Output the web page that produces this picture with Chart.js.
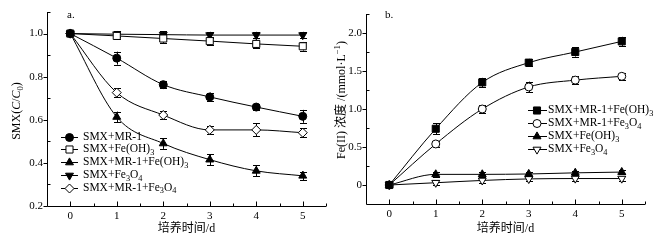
<!DOCTYPE html>
<html>
<head>
<meta charset="utf-8">
<script src="https://cdn.jsdelivr.net/npm/chart.js@4.4.0/dist/chart.umd.min.js"></script>
<style>
	html, body { margin: 0; padding: 0; background: #fff; }
	#wrap { position: relative; width: 667px; height: 244px; }
	canvas { position: absolute; top: 0; }
	#canvasA { left: 0; }
	#canvasB { left: 333px; }
</style>
</head>
<body>
<div id="wrap">
	<canvas id="canvasA" width="333" height="244"></canvas>
	<canvas id="canvasB" width="334" height="244"></canvas>
</div>
<script>
var days = [0, 1, 2, 3, 4, 5];

// panel a: SMX (C/C0)
var aLabels = ["SMX+MR-1", "SMX+Fe(OH)3", "SMX+MR-1+Fe(OH)3", "SMX+Fe3O4", "SMX+MR-1+Fe3O4"];
var aMR1       = [1.0, 0.886, 0.763, 0.706, 0.659, 0.616];
var aFeOH      = [1.0, 0.989, 0.977, 0.965, 0.952, 0.941];
var aMR1FeOH   = [1.0, 0.613, 0.490, 0.415, 0.363, 0.340];
var aFe3O4     = [1.0, 0.997, 0.995, 0.993, 0.993, 0.993];
var aMR1Fe3O4  = [1.0, 0.726, 0.622, 0.553, 0.553, 0.540];
var aErrMR1      = [0, 0.030, 0.015, 0.020, 0.015, 0.030];
var aErrFeOH     = [0, 0.015, 0.020, 0.020, 0.020, 0.020];
var aErrMR1FeOH  = [0, 0.025, 0.025, 0.025, 0.025, 0.020];
var aErrFe3O4    = [0, 0.015, 0.015, 0.015, 0.015, 0.015];
var aErrMR1Fe3O4 = [0, 0.020, 0.020, 0.020, 0.030, 0.020];
var aTicks = [0.2, 0.4, 0.6, 0.8, 1.0];
var aMinor = [0.3, 0.5, 0.7, 0.9, 1.1];

// panel b: Fe(II)
var bLabels = ["SMX+MR-1+Fe(OH)3", "SMX+MR-1+Fe3O4", "SMX+Fe(OH)3", "SMX+Fe3O4"];
var bMR1FeOH   = [0, 0.74, 1.35, 1.61, 1.75, 1.89];
var bMR1Fe3O4  = [0, 0.54, 1.00, 1.29, 1.38, 1.43];
var bFeOH      = [0, 0.14, 0.14, 0.145, 0.16, 0.17];
var bFe3O4     = [0, 0.03, 0.06, 0.08, 0.085, 0.085];
var bErrMR1FeOH  = [0, 0.07, 0.06, 0.05, 0.06, 0.06];
var bErrMR1Fe3O4 = [0, 0.04, 0.05, 0.07, 0.05, 0.05];
var bErrFeOH     = [0, 0.03, 0.03, 0.03, 0.03, 0.03];
var bErrFe3O4    = [0, 0.03, 0.03, 0.03, 0.03, 0.03];
var bTicks = [0, 0.5, 1.0, 1.5, 2.0];
var bMinor = [0.25, 0.75, 1.25, 1.75, 2.25];

var xMinor = [0.5, 1.5, 2.5, 3.5, 4.5, 5.5];

var FAMILY = "'Liberation Serif', 'Noto Sans CJK SC', serif";
Chart.defaults.font.family = FAMILY;
Chart.defaults.font.size = 11;
Chart.defaults.color = "#000";

function pts(vals){
	return days.map(function(d, i){ return { x: d, y: vals[i] }; });
}

// digits after a letter or ')' become subscripts
function chem(str){
	var bits = str.split(/(?<=[A-Za-z)])(\d+)/);
	return bits.map(function(t, i){ return { t: t, sub: i % 2 === 1 }; });
}

function drawRich(ctx, segs, x, y, size, align){
	function fnt(s){ return (s.it ? "italic " : "") + ((s.sub || s.sup) ? size * 0.72 : size) + "px " + FAMILY; }
	var total = 0;
	segs.forEach(function(s){ ctx.font = fnt(s); s.w = ctx.measureText(s.t).width; total += s.w; });
	var cx = align === "center" ? x - total / 2 : x;
	ctx.textBaseline = "middle";
	ctx.textAlign = "left";
	segs.forEach(function(s){
		ctx.font = fnt(s);
		var dy = s.sub ? size * 0.3 : (s.sup ? -size * 0.35 : 0);
		ctx.fillText(s.t, cx, y + dy);
		cx += s.w;
	});
}

function series(label, vals, errs, style, filled, radius, rotation){
	return {
		label: label,
		data: pts(vals),
		errors: errs,
		borderColor: "#000",
		borderWidth: 1,
		backgroundColor: filled ? "#000" : "#fff",
		pointBackgroundColor: filled ? "#000" : "#fff",
		pointBorderColor: "#000",
		pointBorderWidth: 1,
		pointStyle: style,
		pointRadius: radius,
		pointRotation: rotation || 0,
		cubicInterpolationMode: "monotone",
		fill: false
	};
}

function panelPlugin(spec){
	return {
		id: "panel" + spec.tag,
		beforeDatasetsDraw: function(chart){
			var ctx = chart.ctx, ys = chart.scales.y;
			ctx.save();
			ctx.strokeStyle = "#000";
			ctx.lineWidth = 1;
			chart.data.datasets.forEach(function(ds, di){
				var meta = chart.getDatasetMeta(di);
				ds.data.forEach(function(p, i){
					var e = ds.errors[i];
					if (!e) { return; }
					var px = Math.round(meta.data[i].x) + 0.5;
					var t = ys.getPixelForValue(p.y + e), b = ys.getPixelForValue(p.y - e);
					ctx.beginPath();
					ctx.moveTo(px, t); ctx.lineTo(px, b);
					ctx.moveTo(px - 3.5, Math.round(t) + 0.5); ctx.lineTo(px + 3.5, Math.round(t) + 0.5);
					ctx.moveTo(px - 3.5, Math.round(b) + 0.5); ctx.lineTo(px + 3.5, Math.round(b) + 0.5);
					ctx.stroke();
				});
			});
			ctx.restore();
		},
		afterDraw: function(chart){
			var ctx = chart.ctx, ca = chart.chartArea, xs = chart.scales.x, ys = chart.scales.y;
			var L = Math.round(ca.left) + 0.5, B = Math.round(ca.bottom) + 0.5;
			ctx.save();
			ctx.strokeStyle = "#000";
			ctx.fillStyle = "#000";
			ctx.lineWidth = 1;
			ctx.beginPath();
			ctx.moveTo(L, ca.top); ctx.lineTo(L, B); ctx.lineTo(ca.right, B);
			spec.yTicks.forEach(function(v){
				var p = Math.round(ys.getPixelForValue(v)) + 0.5;
				ctx.moveTo(L - 4, p); ctx.lineTo(L, p);
			});
			spec.yMinor.forEach(function(v){
				var p = Math.round(ys.getPixelForValue(v)) + 0.5;
				ctx.moveTo(L, p); ctx.lineTo(L + 3, p);
			});
			days.forEach(function(v){
				var p = Math.round(xs.getPixelForValue(v)) + 0.5;
				ctx.moveTo(p, B); ctx.lineTo(p, B - 5);
			});
			xMinor.forEach(function(v){
				var p = Math.round(xs.getPixelForValue(v)) + 0.5;
				ctx.moveTo(p, B); ctx.lineTo(p, B - 3);
			});
			ctx.stroke();

			// panel letter, axis titles
			drawRich(ctx, [{ t: spec.tag }], spec.tagX, spec.tagY, 11, "left");
			drawRich(ctx, [{ t: "培养时间/d" }], (ca.left + ca.right) / 2, 229, 12, "center");
			ctx.save();
			ctx.translate(spec.yTitleX, spec.yTitleY);
			ctx.rotate(-Math.PI / 2);
			drawRich(ctx, spec.yTitle, 0, 0, 12, "center");
			ctx.restore();

			// legend
			var lg = spec.legend;
			chart.data.datasets.forEach(function(ds, i){
				var y = lg.y + i * lg.dy;
				ctx.beginPath();
				ctx.moveTo(lg.x0, Math.round(y) + 0.5); ctx.lineTo(lg.x1, Math.round(y) + 0.5);
				ctx.stroke();
				ctx.fillStyle = ds.pointBackgroundColor;
				Chart.helpers.drawPoint(ctx, {
					pointStyle: ds.pointStyle,
					rotation: ds.pointRotation,
					radius: ds.pointRadius,
					borderWidth: 1
				}, lg.mark, Math.round(y) + 0.5);
				ctx.fillStyle = "#000";
				drawRich(ctx, chem(ds.label), lg.text, y, 11.5, "left");
			});
			ctx.restore();
		}
	};
}

function init_panel(id, spec, datasets){
	new Chart(document.getElementById(id), {
		type: "line",
		data: { datasets: datasets },
		options: {
			responsive: false,
			animation: false,
			layout: { padding: spec.padding },
			plugins: { legend: { display: false }, tooltip: { enabled: false } },
			scales: {
				x: {
					type: "linear", min: -0.5, max: 5.5,
					grid: { display: false, drawTicks: false },
					border: { display: false },
					ticks: { padding: 4, callback: function(v){ return String(v); } },
					afterBuildTicks: function(s){ s.ticks = days.map(function(v){ return { value: v }; }); },
					afterFit: function(s){ s.height = spec.xHeight; }
				},
				y: {
					type: "linear", min: spec.yMin, max: spec.yMax,
					grid: { display: false, drawTicks: false },
					border: { display: false },
					ticks: { padding: 4, callback: function(v){ return v === 0 ? "0" : v.toFixed(1); } },
					afterBuildTicks: function(s){ s.ticks = spec.yTicks.map(function(v){ return { value: v }; }); },
					afterFit: function(s){ s.width = spec.yWidth; }
				}
			}
		},
		plugins: [panelPlugin(spec)]
	});
}

init_panel("canvasA", {
	tag: "a.", tagX: 67, tagY: 15,
	padding: { left: 0, top: 12, right: 7, bottom: 0 },
	xHeight: 38, yWidth: 47,
	yMin: 0.2, yMax: 1.1, yTicks: aTicks, yMinor: aMinor,
	yTitleX: 17, yTitleY: 111,
	yTitle: [{ t: "SMX(" }, { t: "C", it: true }, { t: "/" }, { t: "C", it: true }, { t: "0", sub: true }, { t: ")" }],
	legend: { x0: 61, x1: 78, mark: 69.5, text: 83, y: 136.7, dy: 12.75 }
}, [
	series(aLabels[0], aMR1, aErrMR1, "circle", true, 4),
	series(aLabels[1], aFeOH, aErrFeOH, "rect", false, 5),
	series(aLabels[2], aMR1FeOH, aErrMR1FeOH, "triangle", true, 4.6),
	series(aLabels[3], aFe3O4, aErrFe3O4, "triangle", true, 4.6, 180),
	series(aLabels[4], aMR1Fe3O4, aErrMR1Fe3O4, "rectRot", false, 4.5)
]);

init_panel("canvasB", {
	tag: "b.", tagX: 52, tagY: 15,
	padding: { left: 0, top: 14, right: 22, bottom: 0 },
	xHeight: 40, yWidth: 33,
	yMin: -0.25, yMax: 2.25, yTicks: bTicks, yMinor: bMinor,
	yTitleX: 9, yTitleY: 100,
	yTitle: [{ t: "Fe(II) 浓度 /(mmol·L" }, { t: "−1", sup: true }, { t: ")" }],
	legend: { x0: 195, x1: 214, mark: 204, text: 215, y: 110, dy: 13 }
}, [
	series(bLabels[0], bMR1FeOH, bErrMR1FeOH, "rect", true, 5),
	series(bLabels[1], bMR1Fe3O4, bErrMR1Fe3O4, "circle", false, 4),
	series(bLabels[2], bFeOH, bErrFeOH, "triangle", true, 4.6),
	series(bLabels[3], bFe3O4, bErrFe3O4, "triangle", false, 4.6, 180)
]);
</script>
</body>
</html>
